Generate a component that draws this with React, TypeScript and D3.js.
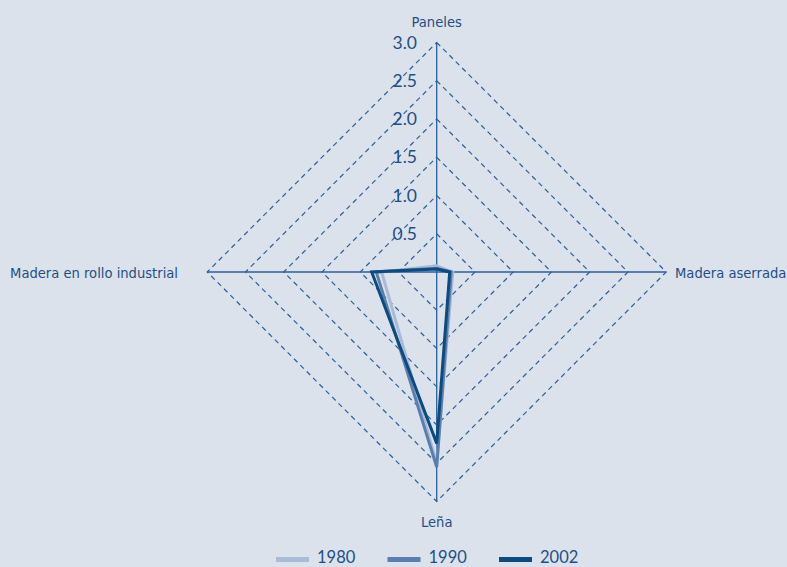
import React from "react";
import * as d3 from "d3";

const axes = ["Paneles", "Madera aserrada", "Leña", "Madera en rollo industrial"];
const seriesNames = ["1980", "1990", "2002"];
const values1980 = [0.08, 0.21, 2.5, 0.72];
const values1990 = [0.05, 0.19, 2.55, 0.79];
const values2002 = [0.04, 0.17, 2.24, 0.85];
const ticks = [0.5, 1.0, 1.5, 2.0, 2.5, 3.0];
const colors = ["#a9bbd7", "#5a7fae", "#0d4a7e"];

export default function App() {
  const W = 787, H = 567;
  const cx = 436.7, cy = 272;
  const r = d3.scaleLinear().domain([0, 3]).range([0, 229.5]);
  const ang = (i: number) => (i * Math.PI) / 2;
  const pt = (i: number, v: number): [number, number] => [
    cx + r(v) * Math.sin(ang(i)),
    cy - r(v) * Math.cos(ang(i)),
  ];
  const line = d3.line<[number, number]>().curve(d3.curveLinearClosed);
  const all = [values1980, values1990, values2002];
  const axisColor = "#2b5f9c";
  const textColor = "#1f4f85";
  return (
    <svg width={W} height={H} style={{ position: "absolute", left: 0, top: 0, background: "#dbe2ec" }}>
      <rect width={W} height={H} fill="#dbe2ec" />
      {ticks.map((t) => (
        <path
          key={t}
          d={line(axes.map((_, i) => pt(i, t))) || ""}
          fill="none"
          stroke={axisColor}
          strokeWidth={1.2}
          strokeDasharray="5,4"
        />
      ))}
      {axes.map((_, i) => {
        const [x, y] = pt(i, 3);
        return <line key={i} x1={cx} y1={cy} x2={x} y2={y} stroke={axisColor} strokeWidth={1.3} />;
      })}
      {all.map((vals, s) => (
        <path
          key={s}
          d={line(vals.map((v, i) => pt(i, v))) || ""}
          fill="none"
          stroke={colors[s]}
          strokeWidth={3}
          strokeLinejoin="miter"
        />
      ))}
      {ticks.map((t) => (
        <text
          key={t}
          x={417}
          y={cy - r(t) + 6}
          textAnchor="end"
          fontFamily="Lato, 'Open Sans', sans-serif"
          fontSize={17.5}
          fill={textColor}
        >
          {t.toFixed(1)}
        </text>
      ))}
      <g fontFamily="'Liberation Sans Narrow', 'DejaVu Sans Condensed', sans-serif" fontSize={14.6} fill={textColor}>
        <text x={cx} y={27} textAnchor="middle">{axes[0]}</text>
        <text x={675} y={278}>{axes[1]}</text>
        <text x={cx} y={527} textAnchor="middle">{axes[2]}</text>
        <text x={178} y={278} textAnchor="end">{axes[3]}</text>
      </g>
      {seriesNames.map((n, s) => {
        const x0 = 276 + s * 111.5;
        return (
          <g key={n}>
            <line x1={x0} x2={x0 + 33} y1={559.5} y2={559.5} stroke={colors[s]} strokeWidth={5} />
            <text x={x0 + 41} y={563} fontFamily="Lato, 'Open Sans', sans-serif" fontSize={16.5} fill={textColor}>
              {n}
            </text>
          </g>
        );
      })}
    </svg>
  );
}
